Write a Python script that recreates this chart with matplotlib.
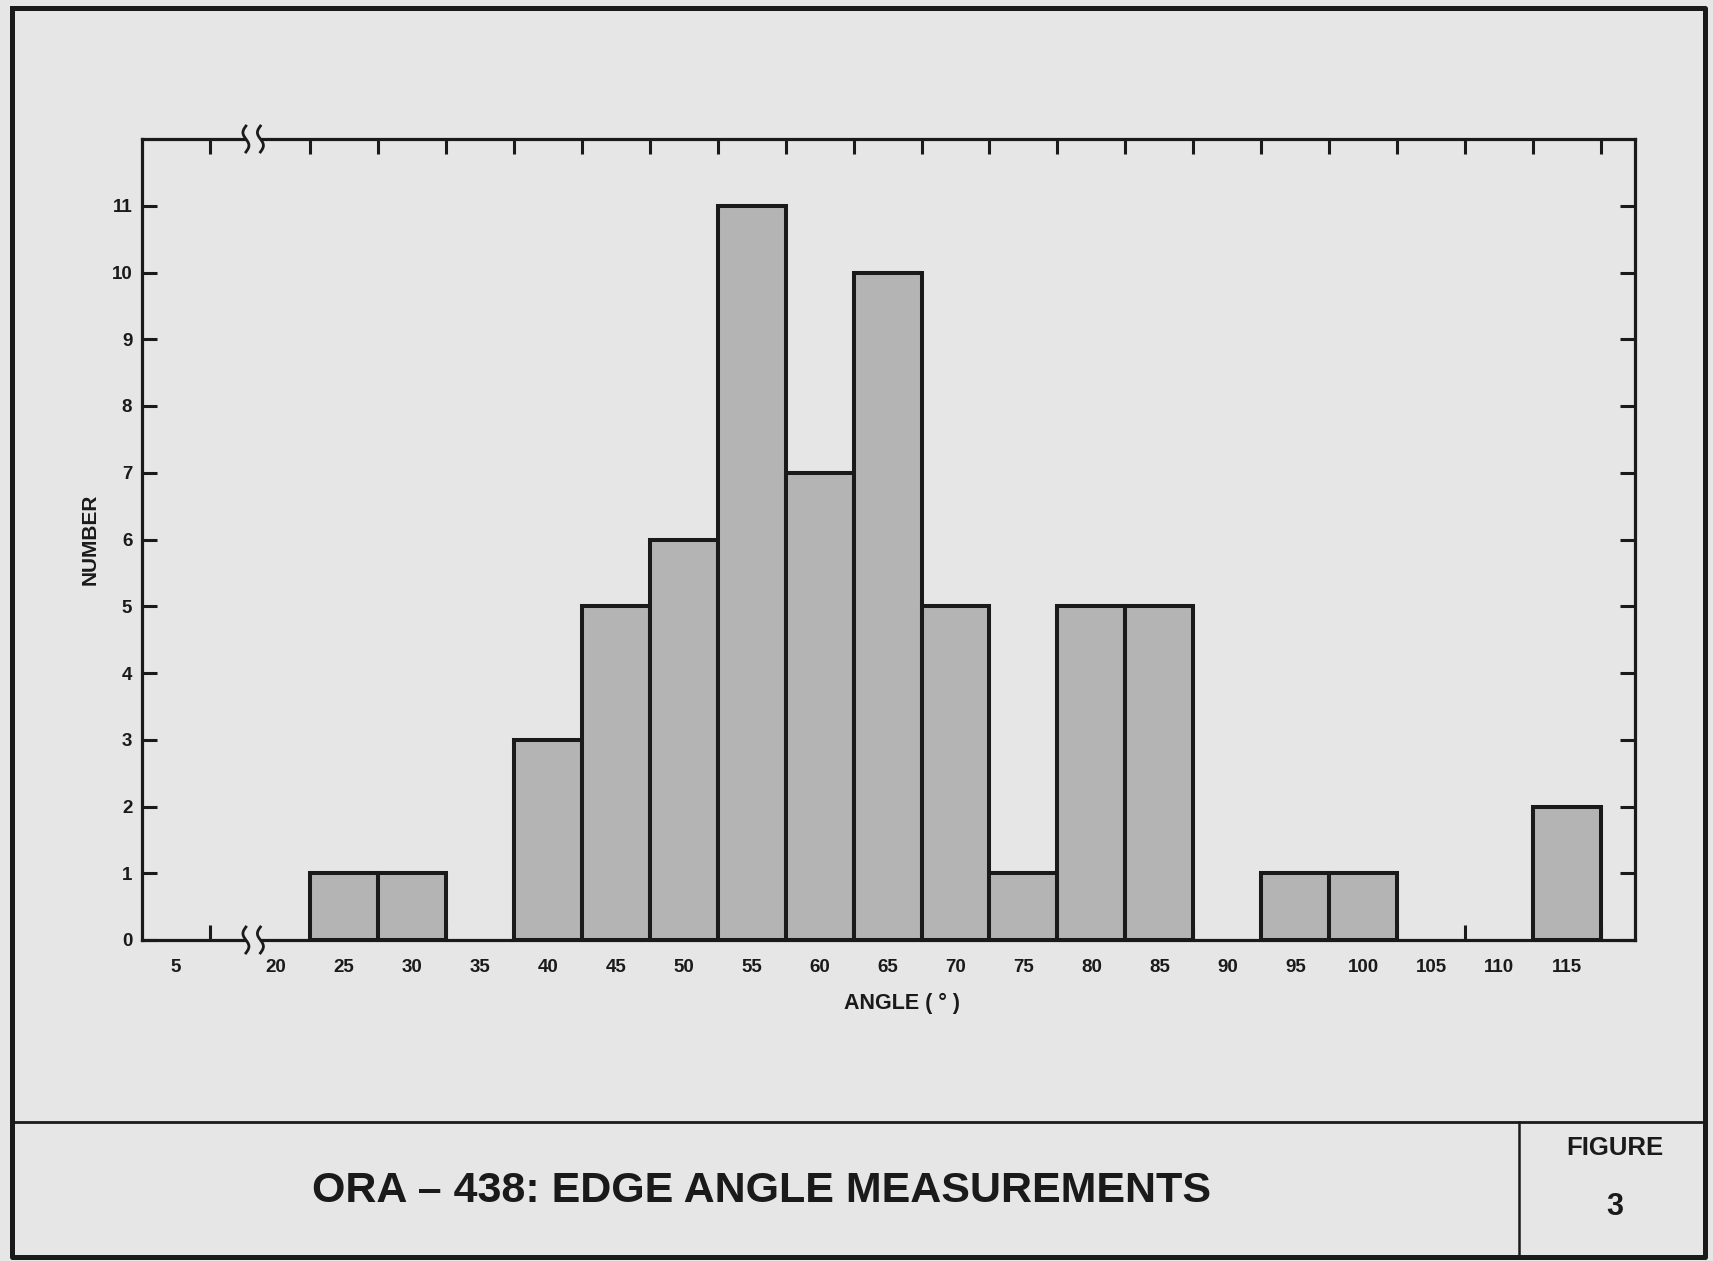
import numpy as np
import matplotlib
matplotlib.use("Agg")
import matplotlib.pyplot as plt
from matplotlib.lines import Line2D

# edge angle histogram (bin centres, counts)
angles = [5, 20, 25, 30, 35, 40, 45, 50, 55, 60, 65, 70, 75, 80, 85, 90, 95, 100, 105, 110, 115]
counts = [0, 0, 1, 1, 0, 3, 5, 6, 11, 7, 10, 5, 1, 5, 5, 0, 1, 1, 0, 0, 2]
bin_width = 5
y_ticks = list(range(0, 12))

title = "ORA \u2013 438: EDGE ANGLE MEASUREMENTS"
x_label = "ANGLE ( \u00b0 )"
y_label = "NUMBER"

BG = "#e6e6e6"
BAR = "#b4b4b4"
INK = "#1a1a1a"

plt.rcParams['font.family'] = ['Liberation Sans', 'DejaVu Sans']
plt.rcParams['font.weight'] = 'bold'

W, H = 1713, 1261
fig = plt.figure(figsize=(W / 100, H / 100), dpi=100, facecolor=BG)

# axes geometry in pixels
left_px, right_px, top_px, bot_px = 142, 1635, 139, 940
px_per_deg = 13.59
lim_a = (2.5, 10.0)
lim_b = (19.0, 120.0)
wa = (lim_a[1] - lim_a[0]) * px_per_deg
wb = (lim_b[1] - lim_b[0]) * px_per_deg

ax_a = fig.add_axes([left_px / W, 1 - bot_px / H, wa / W, (bot_px - top_px) / H])
ax_b = fig.add_axes([(right_px - wb) / W, 1 - bot_px / H, wb / W, (bot_px - top_px) / H], sharey=ax_a)

ang = np.array(angles)
cnt = np.array(counts)
for ax, lim in ((ax_a, lim_a), (ax_b, lim_b)):
    ax.set_facecolor(BG)
    m = (cnt > 0) & (ang > lim[0]) & (ang < lim[1])
    ax.bar(ang[m], cnt[m], width=bin_width, color=BAR, edgecolor=INK, linewidth=2.9, zorder=2)
    ax.set_xlim(*lim)
    ax.set_ylim(0, 12)
    centers = [a for a in angles if lim[0] < a < lim[1]]
    edges = [a + bin_width / 2 for a in centers if a + bin_width / 2 < lim[1]]
    ax.set_xticks(centers)
    ax.set_xticklabels([str(a) for a in centers])
    ax.set_xticks(edges, minor=True)
    ax.tick_params(axis='x', which='major', length=0, pad=14, labelsize=13.5, colors=INK)
    ax.tick_params(axis='x', which='minor', direction='in', length=11, width=2.2,
                   top=True, bottom=True, colors=INK)
    for sp in ax.spines.values():
        sp.set_linewidth(2.3)
        sp.set_color(INK)
        sp.set_zorder(3)

ax_a.spines['right'].set_visible(False)
ax_b.spines['left'].set_visible(False)
ax_a.set_yticks(y_ticks)
ax_a.tick_params(axis='y', direction='in', length=11, width=2.2, pad=7, labelsize=13.5,
                 colors=INK, left=True, right=False)
ax_b.tick_params(axis='y', direction='in', length=11, width=2.2, left=False, right=True,
                 labelleft=False, labelright=False, colors=INK)


def break_mark(x_px, y_px):
    t = np.linspace(-np.pi, np.pi, 40)
    xs = x_px + 3.0 * np.sin(t)
    ys = y_px + t / np.pi * 13
    fig.add_artist(Line2D(xs / W, 1 - ys / H, transform=fig.transFigure, color=INK, lw=2.0))


xa_end = left_px + wa
xb_start = right_px - wb
for y in (top_px, bot_px):
    break_mark(xa_end + 2, y)
    break_mark(xb_start - 2, y)

fig.text(902 / W, 1 - 1003 / H, x_label, ha='center', va='center', fontsize=15.5, color=INK)
fig.text(90 / W, 1 - 539 / H, y_label, ha='center', va='center', rotation=90, fontsize=15, color=INK)

# frame and title block
def fline(xs, ys, lw):
    fig.add_artist(Line2D(np.array(xs) / W, 1 - np.array(ys) / H, transform=fig.transFigure,
                          color=INK, lw=lw, solid_capstyle='projecting'))


fline([12, 1705, 1705, 12, 12], [8, 8, 1257, 1257, 8], 3.6)
fline([12, 1705], [1122, 1122], 2.0)
fline([1519, 1519], [1122, 1257], 1.8)

fig.text(761 / W, 1 - 1191 / H, title, ha='center', va='center', fontsize=31, color=INK)
fig.text(1615 / W, 1 - 1148 / H, "FIGURE", ha='center', va='center', fontsize=18.5, color=INK)
fig.text(1615 / W, 1 - 1207 / H, "3", ha='center', va='center', fontsize=22, color=INK)

fig.savefig("out.png", dpi=100, facecolor=BG)
